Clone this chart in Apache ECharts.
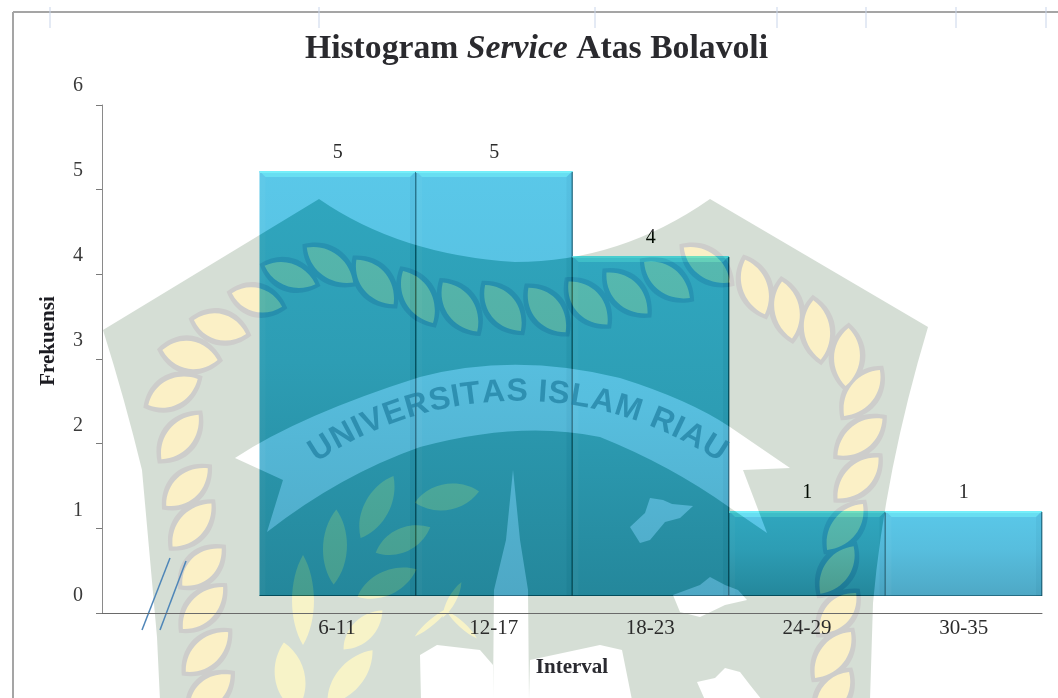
<!DOCTYPE html>
<html><head><meta charset="utf-8">
<style>html,body{margin:0;padding:0;background:#fff}#c{width:1058px;height:698px;filter:blur(.45px)}</style>
<script src="https://cdn.jsdelivr.net/npm/echarts@6/dist/echarts.min.js"></script>
</head><body><div id="c"></div>
<script>
const categories = ['', '6-11', '12-17', '18-23', '24-29', '30-35'];
const frequencies = [null, 5, 5, 4, 1, 1];
const yTicks = [0, 1, 2, 3, 4, 5, 6];
const titleParts = ['Histogram ', 'Service', ' Atas Bolavoli'];
const xAxisName = 'Interval';
const yAxisName = 'Frekuensi';
const watermarkText = 'UNIVERSITAS ISLAM RIAU';

// Watermark leaves: cx, cy, angle, length, width
const ropeLeaves = [
 [257,300,15,52,24],[220,327,15,54,26],[190,355,10,56,28],[173,392,-28,56,26],[180,437,-50,58,26],
 [187,487,-42,56,26],[192,525,-48,58,26],[202,567,-43,54,26],[203,608,-46,58,26],[207,652,-43,58,26],[210,692,-40,54,26],
 [290,275,20,54,23],[330,265,37,58,25],[375,282,50,58,27],[418,297,60,60,27],[460,307,55,60,28],[503,308,52,58,28],
 [547,310,50,58,28],[588,303,48,58,28],[627,293,45,58,27],[667,280,38,58,26],[707,265,37,58,25],
 [755,287,70,58,25],[787,310,80,58,25],[817,330,83,60,26],[847,357,93,58,26],[862,393,128,58,26],
 [860,437,141,58,26],[858,478,135,58,26],[845,527,128,58,26],[837,570,125,58,26],[838,613,132,54,26],[833,655,128,58,26],[833,695,125,56,26]
];
const plantLeaves = [
 [335,547,-88,75,24],[377,507,-62,70,25],[447,497,-10,65,26],[403,540,-25,60,24],[387,583,-25,65,24],
 [303,600,-90,90,22],[290,677,-100,70,30],[350,677,-50,70,26],[363,630,-45,55,22],
 [452,600,-62,40,8],[432,622,-40,45,6],[462,625,42,40,6]
];

const SHIELD = 'M103 330 L319 199 Q400 255 515 262 Q620 262 710 199 L928 327 Q885 470 873 603 L870 700 L160 700 L157 637 L142 470 Q125 400 103 330 Z';
const BANNER = 'M235 458 Q300 415 420 377 Q515 352 620 378 Q690 400 730 427 L790 468 L743 470 L767 533 L729 507 Q670 465 600 437 Q520 420 420 447 Q340 475 267 532 L283 480 Z';
const WHITE_SHAPES = [
 'M513 470 L520 540 L528 590 L529 700 L493 700 L494 590 L506 540 Z',
 'M421 700 L420 655 L437 645 L480 650 L493 665 L493 700 Z',
 'M529 700 L530 660 L600 645 L622 650 L632 700 Z',
 'M630 527 L645 513 L650 498 L663 500 L672 504 L693 506 L680 518 L665 522 L650 540 L640 543 Z',
 'M673 595 L700 585 L710 577 L725 585 L738 590 L747 600 L725 605 L700 617 L680 612 Z',
 'M697 682 L715 678 L725 668 L740 672 L750 685 L762 700 L705 700 Z'
];

function leafPath(l, grow) {
  const [cx, cy, a, len, w] = l, L = len / 2 + grow, W = w / 2 + grow;
  const r = a * Math.PI / 180, c = Math.cos(r), s = Math.sin(r);
  const P = (x, y) => (cx + x * c - y * s).toFixed(1) + ' ' + (cy + x * s + y * c).toFixed(1);
  return 'M' + P(-L, 0) + ' C' + P(-L * .45, -W * 1.35) + ' ' + P(L * .45, -W * 1.3) + ' ' + P(L, 0) +
         ' C' + P(L * .45, W * 1.3) + ' ' + P(-L * .45, W * 1.35) + ' ' + P(-L, 0) + ' Z';
}
const layers = [];
function absPath(d, blend, fill) { layers.push({d, blend, fill}); }
const SUB='difference', ADD='lighter';
absPath(SHIELD, SUB, 'rgb(42,33,42)');
absPath([BANNER].concat(WHITE_SHAPES).join(' '), ADD, 'rgb(42,33,42)');
const halo = ropeLeaves.map(l => leafPath(l, 5.5)).join(' ');
const leaf = ropeLeaves.map(l => leafPath(l, 0)).join(' ');
absPath(halo, SUB, 'rgb(8,17,10)');
absPath(leaf, ADD, 'rgb(46,35,0)');
absPath(leaf, SUB, 'rgb(0,0,5)');
const plant = plantLeaves.map(l => leafPath(l, 0)).join(' ');
absPath(plant, ADD, 'rgb(34,21,0)');
absPath(plant, SUB, 'rgb(0,0,13)');

const gfx = [];
// curved lettering of the watermark
(function () {
  const font = 'bold 32px "Liberation Sans", Arial, sans-serif';
  const m = document.createElement('canvas').getContext('2d'); m.font = font;
  const cx = 518, cy = 762, R = 370, span = 68 * Math.PI / 180;
  const widths = [...watermarkText].map(ch => m.measureText(ch).width);
  const total = widths.reduce((a, b) => a + b, 0);
  let adv = 0;
  [...watermarkText].forEach((ch, i) => {
    const t = (adv + widths[i] / 2) / total - .5; adv += widths[i];
    const ang = t * span;
    gfx.push({type:'text', silent:true, z:6,
      x: cx + R * Math.sin(ang), y: cy - R * Math.cos(ang), rotation: -ang,
      style:{text:ch, font, fill:'rgba(30,125,160,.7)', align:'center', verticalAlign:'middle'}});
  });
})();

// page frame, ruler marks, axis-break strokes
const frame = 'rgb(165,165,165)';
gfx.push({type:'line', silent:true, z:7, shape:{x1:13,y1:12,x2:1058,y2:12}, style:{stroke:frame, lineWidth:2}});
gfx.push({type:'line', silent:true, z:7, shape:{x1:13,y1:12,x2:13,y2:698}, style:{stroke:frame, lineWidth:2}});
[50,319,595,777,866,956,1046].forEach(x => gfx.push({type:'line', silent:true, z:7, shape:{x1:x,y1:7,x2:x,y2:28}, style:{stroke:'#c9d5ea', lineWidth:1}}));
gfx.push({type:'line', silent:true, z:8, shape:{x1:170,y1:558,x2:142,y2:630}, style:{stroke:'#4f86b8', lineWidth:1.5}});
gfx.push({type:'line', silent:true, z:8, shape:{x1:186,y1:561,x2:160,y2:630}, style:{stroke:'#4f86b8', lineWidth:1.5}});

const serif = '"Liberation Serif","Times New Roman",serif';
const chart = echarts.init(document.getElementById('c'), null, {renderer:'canvas', width:1058, height:698});
const yMin = yTicks[0], yMax = yTicks[yTicks.length-1];
chart.setOption({
  animation:false,
  backgroundColor:'#fff',
  title:{
    left:531.5, top:27, textAlign:'center',
    text:'{a|'+titleParts[0]+'}{b|'+titleParts[1]+'}{a|'+titleParts[2]+'}',
    textStyle:{rich:{
      a:{fontFamily:serif, fontWeight:'bold', fontSize:33.7, color:'#2a2a2e'},
      b:{fontFamily:serif, fontWeight:'bold', fontStyle:'italic', fontSize:33.7, color:'#2a2a2e'}
    }}
  },
  grid:[
    {left:103, right:16, top:86, height:510},
    {left:102, right:16, top:105, height:508}
  ],
  xAxis:[
    {type:'category', gridIndex:0, data:categories, show:false},
    {type:'category', gridIndex:1, data:categories, z:10,
     axisLine:{show:true, lineStyle:{color:'#6a6a6a', width:1}}, axisTick:{show:false},
     axisLabel:{color:'#2c2c2c', fontFamily:serif, fontSize:21, margin:5, interval:0},
     name:xAxisName, nameLocation:'middle', nameGap:44,
     nameTextStyle:{fontFamily:serif, fontWeight:'bold', fontSize:21, color:'#2a2a30'}}
  ],
  yAxis:[
    {type:'value', gridIndex:0, min:yMin, max:yMax, interval:1, z:10,
     axisLine:{show:false}, axisTick:{show:false}, splitLine:{show:false},
     axisLabel:{color:'#3a3a3a', fontFamily:serif, fontSize:20, margin:20, padding:[4,0,0,0]},
     name:yAxisName, nameLocation:'middle', nameGap:44, nameRotate:90,
     nameTextStyle:{fontFamily:serif, fontWeight:'bold', fontSize:21, color:'#1c1c22'}},
    {type:'value', gridIndex:1, min:yMin, max:yMax, interval:1, z:10,
     axisLine:{show:true, lineStyle:{color:'#8a8a8a', width:1}},
     axisTick:{show:true, length:6, lineStyle:{color:'#7a7a7a'}},
     axisLabel:{show:false}, splitLine:{show:false}}
  ],
  series:[
    {type:'bar', xAxisIndex:0, yAxisIndex:0, data:frequencies, barWidth:'100%', barGap:'0%', z:1,
     itemStyle:{color:new echarts.graphic.LinearGradient(0,0,0,1,[
       {offset:0,color:'rgb(90,200,233)'},{offset:.45,color:'rgb(87,190,222)'},{offset:1,color:'rgb(78,168,197)'}])},
     label:{show:true, position:'top', distance:8, color:'#2b2b2b', fontFamily:serif, fontSize:20}},
    {type:'custom', xAxisIndex:0, yAxisIndex:0, z:2, silent:true,
     data:categories.map((c,i)=>[i,frequencies[i]]),
     renderItem(params, api){
       if (api.value(1) == null || isNaN(api.value(1))) return;
       const top = api.coord([api.value(0), api.value(1)]);
       const bot = api.coord([api.value(0), 0]);
       const w = api.size([1,0])[0];
       const x0 = top[0]-w/2, x1 = top[0]+w/2, y0 = top[1], y1 = bot[1];
       const poly = (points, fill) => ({type:'polygon', shape:{points}, style:{fill}});
       const edge = 'rgba(12,72,92,.62)';
       return {type:'group', children:[
         poly([[x0,y0],[x1,y0],[x1-6,y0+6],[x0+6,y0+6]],'rgba(110,232,245,.72)'),
         poly([[x0,y0],[x1,y0],[x1,y0+2],[x0,y0+2]],'rgba(118,240,250,.9)'),
         poly([[x0,y0],[x0+6,y0+6],[x0+6,y1],[x0,y1]],'rgba(255,255,255,.035)'),
         poly([[x1,y0],[x1-6,y0+6],[x1-6,y1],[x1,y1]],'rgba(0,60,90,.05)'),
         poly([[x1-1,y0+1],[x1+.5,y0+1],[x1+.5,y1],[x1-1,y1]],edge),
         poly([[x0,y1-1],[x1,y1-1],[x1,y1],[x0,y1]],'rgba(12,72,92,.6)')
       ]};
     }}
  ].concat(layers.map(l => ({
     type:'custom', xAxisIndex:0, yAxisIndex:0, z:5, silent:true, blendMode:l.blend, data:[[0,0]],
     renderItem(){ return {type:'path', shape:{pathData:l.d}, style:{fill:l.fill}}; }
  }))),
  graphic:{elements:gfx}
});
</script></body></html>
